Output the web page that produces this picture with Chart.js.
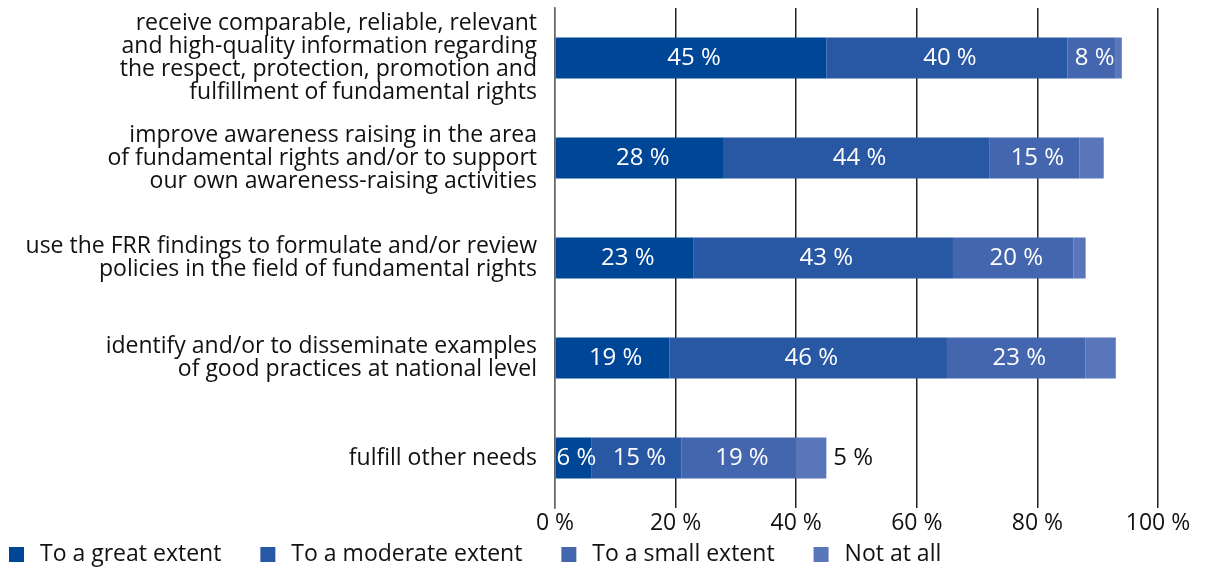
<!DOCTYPE html>
<html lang="en">
<head>
    <meta charset="UTF-8">
    <title>FRR use</title>
    <script src="https://cdn.jsdelivr.net/npm/chart.js"></script>
    <style>
        body {
            margin: 0;
            padding: 0;
            background-color: white;
        }

        .chart-box {
            width: 1206px;
            height: 570px;
        }
    </style>
</head>
<body>
    <div class="chart-box">
        <canvas id="frrChart"></canvas>
    </div>

    <script>
        const categories = [
            ['receive comparable, reliable, relevant', 'and high-quality information regarding', 'the respect, protection, promotion and', 'fulfillment of fundamental rights'],
            ['improve awareness raising in the area', 'of fundamental rights and/or to support', 'our own awareness-raising activities'],
            ['use the FRR findings to formulate and/or review', 'policies in the field of fundamental rights'],
            ['identify and/or to disseminate examples', 'of good practices at national level'],
            'fulfill other needs'
        ];
        const seriesNames = ['To a great extent', 'To a moderate extent', 'To a small extent', 'Not at all'];
        const greatExtent = [45, 28, 23, 19, 6];
        const moderateExtent = [40, 44, 43, 46, 15];
        const smallExtent = [8, 15, 20, 23, 19];
        const notAtAll = [1, 4, 2, 5, 5];
        const xTicks = [0, 20, 40, 60, 80, 100];

        const colors = ['#004697', '#2857a4', '#4466ae', '#5a76ba'];
        const fontName = "'Open Sans', sans-serif";

        // value labels: inside for the first three parts, outside for a short last part
        const valueLabels = {
            id: 'valueLabels',
            afterDatasetsDraw(chart) {
                const ctx = chart.ctx;
                const area = chart.chartArea;
                ctx.save();
                ctx.font = '24px ' + fontName;
                ctx.textBaseline = 'middle';
                chart.data.datasets.forEach((ds, i) => {
                    const meta = chart.getDatasetMeta(i);
                    meta.data.forEach((bar, j) => {
                        const text = ds.data[j] + ' %';
                        if (i < 3) {
                            ctx.fillStyle = 'white';
                            ctx.textAlign = 'center';
                            ctx.fillText(text, (bar.x + bar.base) / 2 + 3, bar.y);
                        } else if (bar.x < area.left + area.width * 0.6) {
                            ctx.fillStyle = '#111';
                            ctx.textAlign = 'left';
                            ctx.fillText(text, bar.x + 7, bar.y);
                        }
                    });
                });
                ctx.restore();
            }
        };

        const bottomLegend = {
            id: 'bottomLegend',
            afterDraw(chart) {
                const ctx = chart.ctx;
                ctx.save();
                ctx.font = '23px ' + fontName;
                ctx.textBaseline = 'middle';
                ctx.textAlign = 'left';
                let x = 9;
                const y = 554;
                chart.data.datasets.forEach((ds) => {
                    ctx.fillStyle = ds.backgroundColor;
                    ctx.fillRect(x, y - 7, 15, 15);
                    ctx.fillStyle = '#111';
                    ctx.fillText(ds.label, x + 31, y);
                    x += 31 + ctx.measureText(ds.label).width + 39;
                });
                ctx.restore();
            }
        };

        const seriesData = [greatExtent, moderateExtent, smallExtent, notAtAll];

        new Chart(document.getElementById('frrChart'), {
            type: 'bar',
            data: {
                labels: categories,
                datasets: seriesNames.map((name, i) => ({
                    label: name,
                    data: seriesData[i],
                    backgroundColor: colors[i],
                    borderWidth: 0,
                    barPercentage: 0.82,
                    categoryPercentage: 0.5
                }))
            },
            options: {
                indexAxis: 'y',
                responsive: true,
                maintainAspectRatio: false,
                animation: false,
                layout: {
                    padding: { top: 8, right: 48, bottom: 0, left: 0 }
                },
                plugins: {
                    legend: { display: false },
                    tooltip: { enabled: false }
                },
                scales: {
                    x: {
                        stacked: true,
                        min: 0,
                        max: 100,
                        afterBuildTicks: (scale) => {
                            scale.ticks = xTicks.map(v => ({ value: v }));
                        },
                        afterFit: (scale) => {
                            scale.height = 62;
                            scale.paddingLeft = 0;
                            scale.paddingRight = 0;
                        },
                        grid: {
                            color: (c) => c.tick && c.tick.value === 0 ? '#666' : '#222',
                            lineWidth: 1.5,
                            drawTicks: false
                        },
                        border: { display: false },
                        ticks: {
                            padding: 2,
                            color: '#111',
                            font: { family: fontName, size: 23 },
                            callback: (v) => v + ' %'
                        }
                    },
                    y: {
                        stacked: true,
                        afterFit: (scale) => {
                            scale.width = 555;
                            scale.paddingTop = 0;
                            scale.paddingBottom = 0;
                        },
                        grid: { display: false, drawTicks: false },
                        border: { display: true, color: '#666', width: 1.5 },
                        ticks: {
                            padding: 18,
                            color: '#111',
                            font: { family: fontName, size: 23, lineHeight: 1.0 }
                        }
                    }
                }
            },
            plugins: [valueLabels, bottomLegend]
        });
    </script>
</body>
</html>
